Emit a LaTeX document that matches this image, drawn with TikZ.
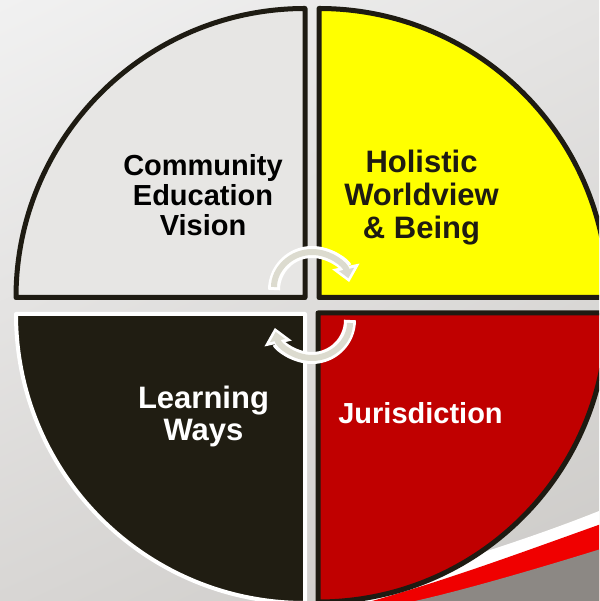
\documentclass[tikz,border=0pt]{standalone}
\usepackage{fontspec}
\setmainfont{Liberation Sans}
\usetikzlibrary{arrows.meta, shadings}

\definecolor{bgUL}{HTML}{F1F1F1}
\definecolor{bgUR}{HTML}{E5E4E3}
\definecolor{bgLL}{HTML}{D8D6D4}
\definecolor{bgLR}{HTML}{CCCAC7}
\definecolor{wheelOutline}{HTML}{1E1B12}
\definecolor{visionGray}{HTML}{E7E6E4}
\definecolor{beingYellow}{HTML}{FFFF00}
\definecolor{waysBlack}{HTML}{201D12}
\definecolor{jurisRed}{HTML}{C00000}
\definecolor{cycleBeige}{HTML}{DCDBCF}
\definecolor{swooshRed}{HTML}{F00000}
\definecolor{swooshGray}{HTML}{8C8884}

\tikzset{
	quadrant style/.style={
		line width=5pt,
		draw=wheelOutline,
		line join=round
	},
	label style/.style={
		align=center,
		inner sep=0pt
	},
	cycle outline style/.style={
		white,
		line width=12pt,
		-{Triangle[width=27pt,length=16pt]}
	},
	cycle fill style/.style={
		cycleBeige,
		line width=6pt,
		shorten <=3pt,
		shorten >=4pt,
		-{Triangle[width=15pt,length=9pt]}
	}
}

\begin{document}
\begin{tikzpicture}[x=1pt, y=1pt]
		
		% --- 1. Page and background ---
		\useasboundingbox (0,0) rectangle (599,601);
		\clip (0,0) rectangle (599,601);
		\shade[upper left=bgUL, upper right=bgUR, lower left=bgLL, lower right=bgLR]
		(0,0) rectangle (599,601);
		
		% --- 2. Swoosh in the lower right corner ---
		\fill[white] (325,0) .. controls (430,32) and (520,58) .. (604,92) -- (604,0) -- cycle;
		\fill[swooshRed] (372,0) .. controls (450,22) and (520,48) .. (604,78) -- (604,0) -- cycle;
		\fill[swooshGray] (415,0) .. controls (460,10) and (530,30) .. (604,53) -- (604,0) -- cycle;
		
		% --- 3. The four quadrants ---
		\def\radius{289}
		\filldraw[quadrant style, fill=visionGray]
		(305,303.5) -- ++(-\radius,0) arc (180:90:\radius) -- cycle;
		\filldraw[quadrant style, fill=beingYellow]
		(319,303.5) -- ++(0,\radius) arc (90:0:\radius) -- cycle;
		\filldraw[quadrant style, fill=waysBlack, draw=white, line width=4pt]
		(305,287) -- ++(-\radius,0) arc (180:270:\radius) -- cycle;
		\filldraw[quadrant style, fill=jurisRed]
		(318,288) -- ++(\radius,0) arc (0:-90:\radius) -- cycle;
		
		% --- 4. Cycle arrows in the middle ---
		\draw[cycle outline style] (274,311) arc (180:12:38);
		\draw[cycle fill style] (274,311) arc (180:12:38);
		\draw[cycle outline style] (350,281) arc (0:-168:38);
		\draw[cycle fill style] (350,281) arc (0:-168:38);
		
		% --- 5. Labels ---
		\node[label style, font=\bfseries\fontsize{29}{30}\selectfont] (vision) at (203,406)
		{Community\\Education\\Vision};
		\node[label style, font=\bfseries\fontsize{31}{33}\selectfont, text=wheelOutline] (being) at (421.5,403.5)
		{Holistic\\Worldview\\\& Being};
		\node[label style, font=\bfseries\fontsize{31}{32}\selectfont, text=white] (ways) at (203.5,185)
		{Learning\\Ways};
		\node[label style, font=\bfseries\fontsize{29}{30}\selectfont, text=white, anchor=base] (jurisdiction) at (420.5,177)
		{Jurisdiction};
		
	\end{tikzpicture}
\end{document}
